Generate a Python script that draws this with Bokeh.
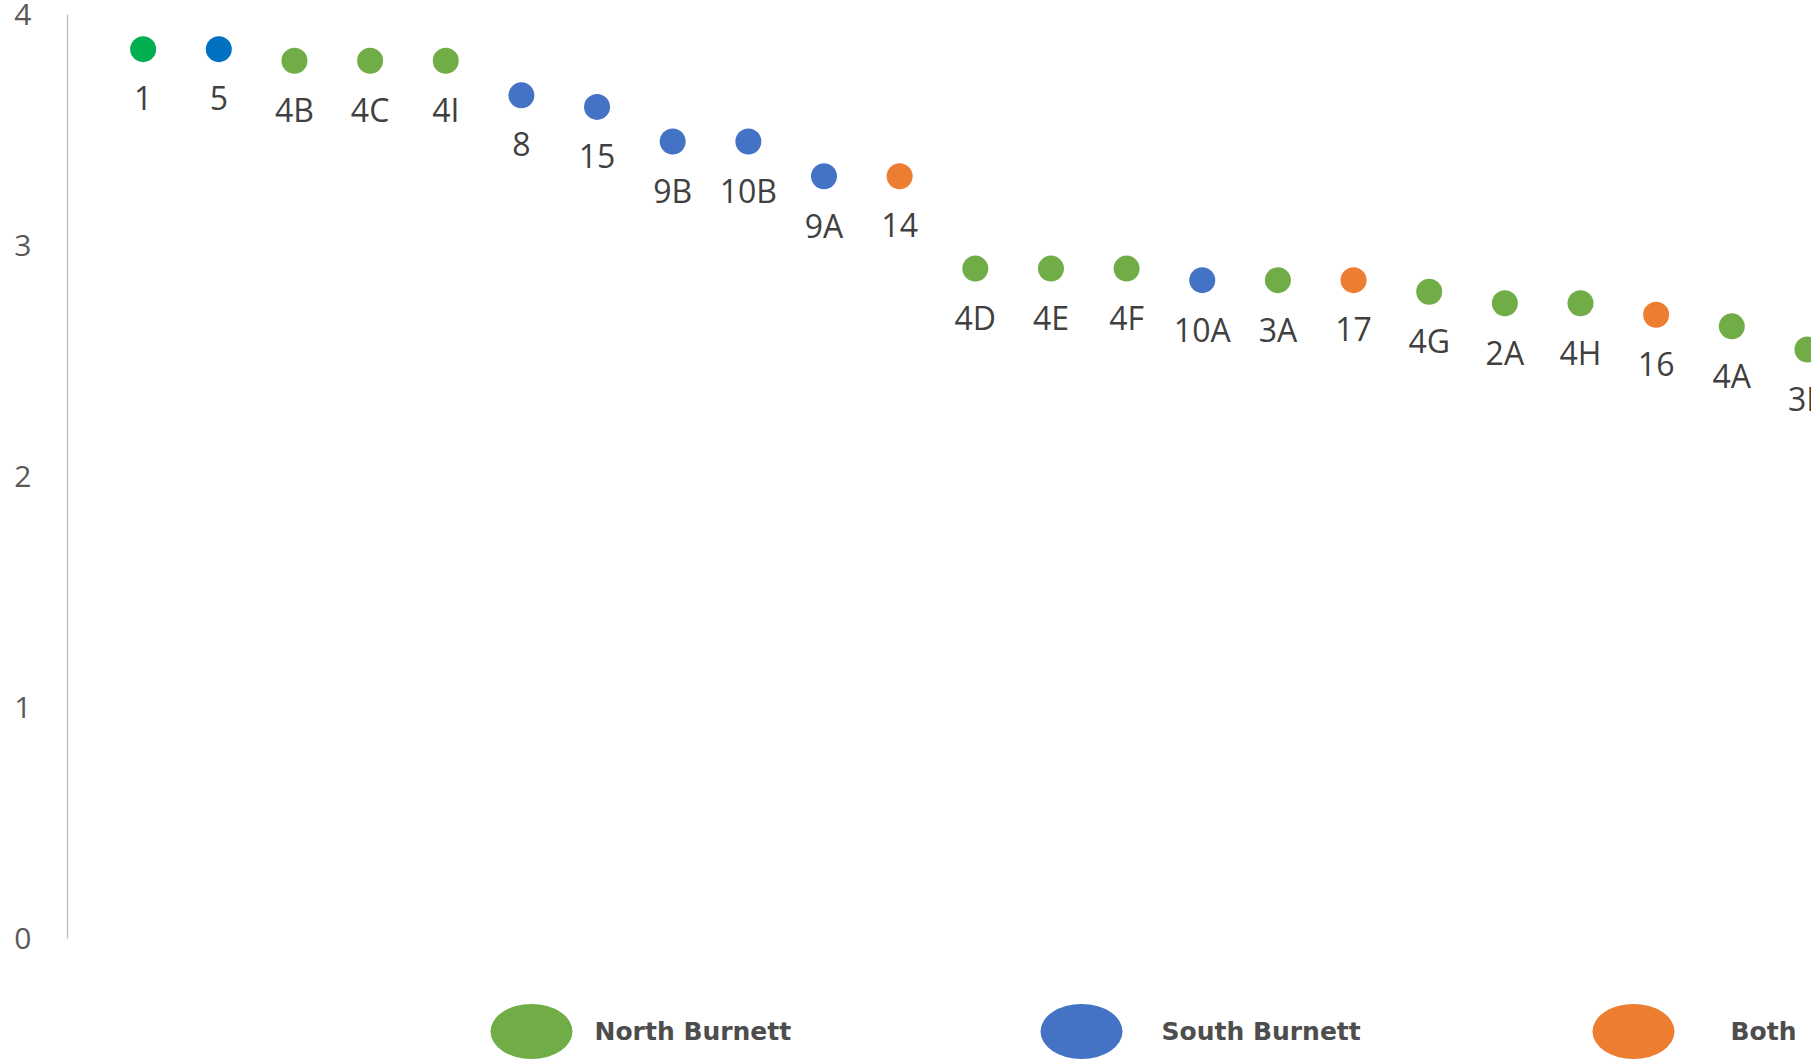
from bokeh.plotting import figure
from bokeh.models import (ColumnDataSource, Range1d, LinearAxis, FixedTicker)
from bokeh.core.properties import value
from bokeh.embed import file_html
from bokeh.resources import INLINE

# ---- data -------------------------------------------------------------
site_labels = ["1", "5", "4B", "4C", "4I", "8", "15", "9B", "10B", "9A", "14",
               "4D", "4E", "4F", "10A", "3A", "17", "4G", "2A", "4H", "16",
               "4A", "3B"]
site_scores = [3.85, 3.85, 3.80, 3.80, 3.80, 3.65, 3.60, 3.45, 3.45, 3.30, 3.30,
               2.90, 2.90, 2.90, 2.85, 2.85, 2.85, 2.80, 2.75, 2.75, 2.70,
               2.65, 2.55]
site_region = ["North", "South", "North", "North", "North", "South", "South",
               "South", "South", "South", "Both", "North", "North", "North",
               "South", "North", "Both", "North", "North", "North", "Both",
               "North", "North"]
y_ticks = [0, 1, 2, 3, 4]

legend_names = ["North Burnett", "South Burnett", "Both"]
legend_regions = ["North", "South", "Both"]

# ---- styling ----------------------------------------------------------
region_colors = {"North": "#70AD47", "South": "#4472C4", "Both": "#ED7D31"}
# the two leading sites use a stronger shade
special_colors = {"1": "#00B050", "5": "#0070C0"}

colors = [special_colors.get(lab, region_colors[reg])
          for lab, reg in zip(site_labels, site_region)]
xs = list(range(1, len(site_labels) + 1))

W, H = 1811, 1060
LEFT, TOP = 67, 14
ZERO_PX = 938                      # page row of score 0
unit = (ZERO_PX - TOP) / 4.0       # pixels per score unit
y_low = -(H - ZERO_PX) / unit
step = 75.65                       # pixels per site
x_high = (W - LEFT) / step

p = figure(width=W, height=H, output_backend="svg", toolbar_location=None,
           x_range=Range1d(0, x_high), y_range=Range1d(y_low, 4),
           x_axis_location=None, y_axis_location=None,
           min_border_left=LEFT, min_border_right=0,
           min_border_top=TOP, min_border_bottom=0)
p.outline_line_color = None
p.xgrid.visible = False
p.ygrid.visible = False
p.background_fill_color = "white"
p.border_fill_color = "white"

yaxis = LinearAxis(ticker=FixedTicker(ticks=y_ticks), bounds=(0, 4))
yaxis.axis_line_color = "#BFBFBF"
yaxis.axis_line_width = 1.3
yaxis.major_tick_line_color = None
yaxis.minor_tick_line_color = None
yaxis.major_label_text_font = "Open Sans"
yaxis.major_label_text_font_size = "30px"
yaxis.major_label_text_color = "#595959"
yaxis.major_label_standoff = 30
p.add_layout(yaxis, "left")

src = ColumnDataSource(dict(x=xs, y=site_scores, label=site_labels,
                            color=colors))
p.scatter("x", "y", source=src, size=26, marker="circle",
          fill_color="color", line_color=None)
p.text("x", "y", text="label", source=src, y_offset=49,
       text_align="center", text_baseline="middle",
       text_font=value("Open Sans"), text_font_size="32px",
       text_color="#404040")

# ---- legend drawn in page-pixel coordinates ----------------------------
p.extra_x_ranges["px"] = Range1d(LEFT, W)
p.extra_y_ranges["px"] = Range1d(H, TOP)

leg_marker_x = [531, 1081, 1633]
leg_text_x = [594, 1161, 1730]
leg_y = [1031, 1031, 1031]
leg_src = ColumnDataSource(dict(mx=leg_marker_x, tx=leg_text_x, y=leg_y,
                                name=legend_names,
                                color=[region_colors[r] for r in legend_regions]))
p.ellipse("mx", "y", width=82, height=55, width_units="screen",
          height_units="screen", source=leg_src, fill_color="color",
          line_color=None, x_range_name="px", y_range_name="px")
p.text("tx", "y", text="name", source=leg_src, x_range_name="px",
       y_range_name="px", text_align="left", text_baseline="middle",
       text_font=value("DejaVu Sans"), text_font_style="bold",
       text_font_size="25px", text_color="#4D4D4D")

open("out.html", "w").write(file_html(p, INLINE))
